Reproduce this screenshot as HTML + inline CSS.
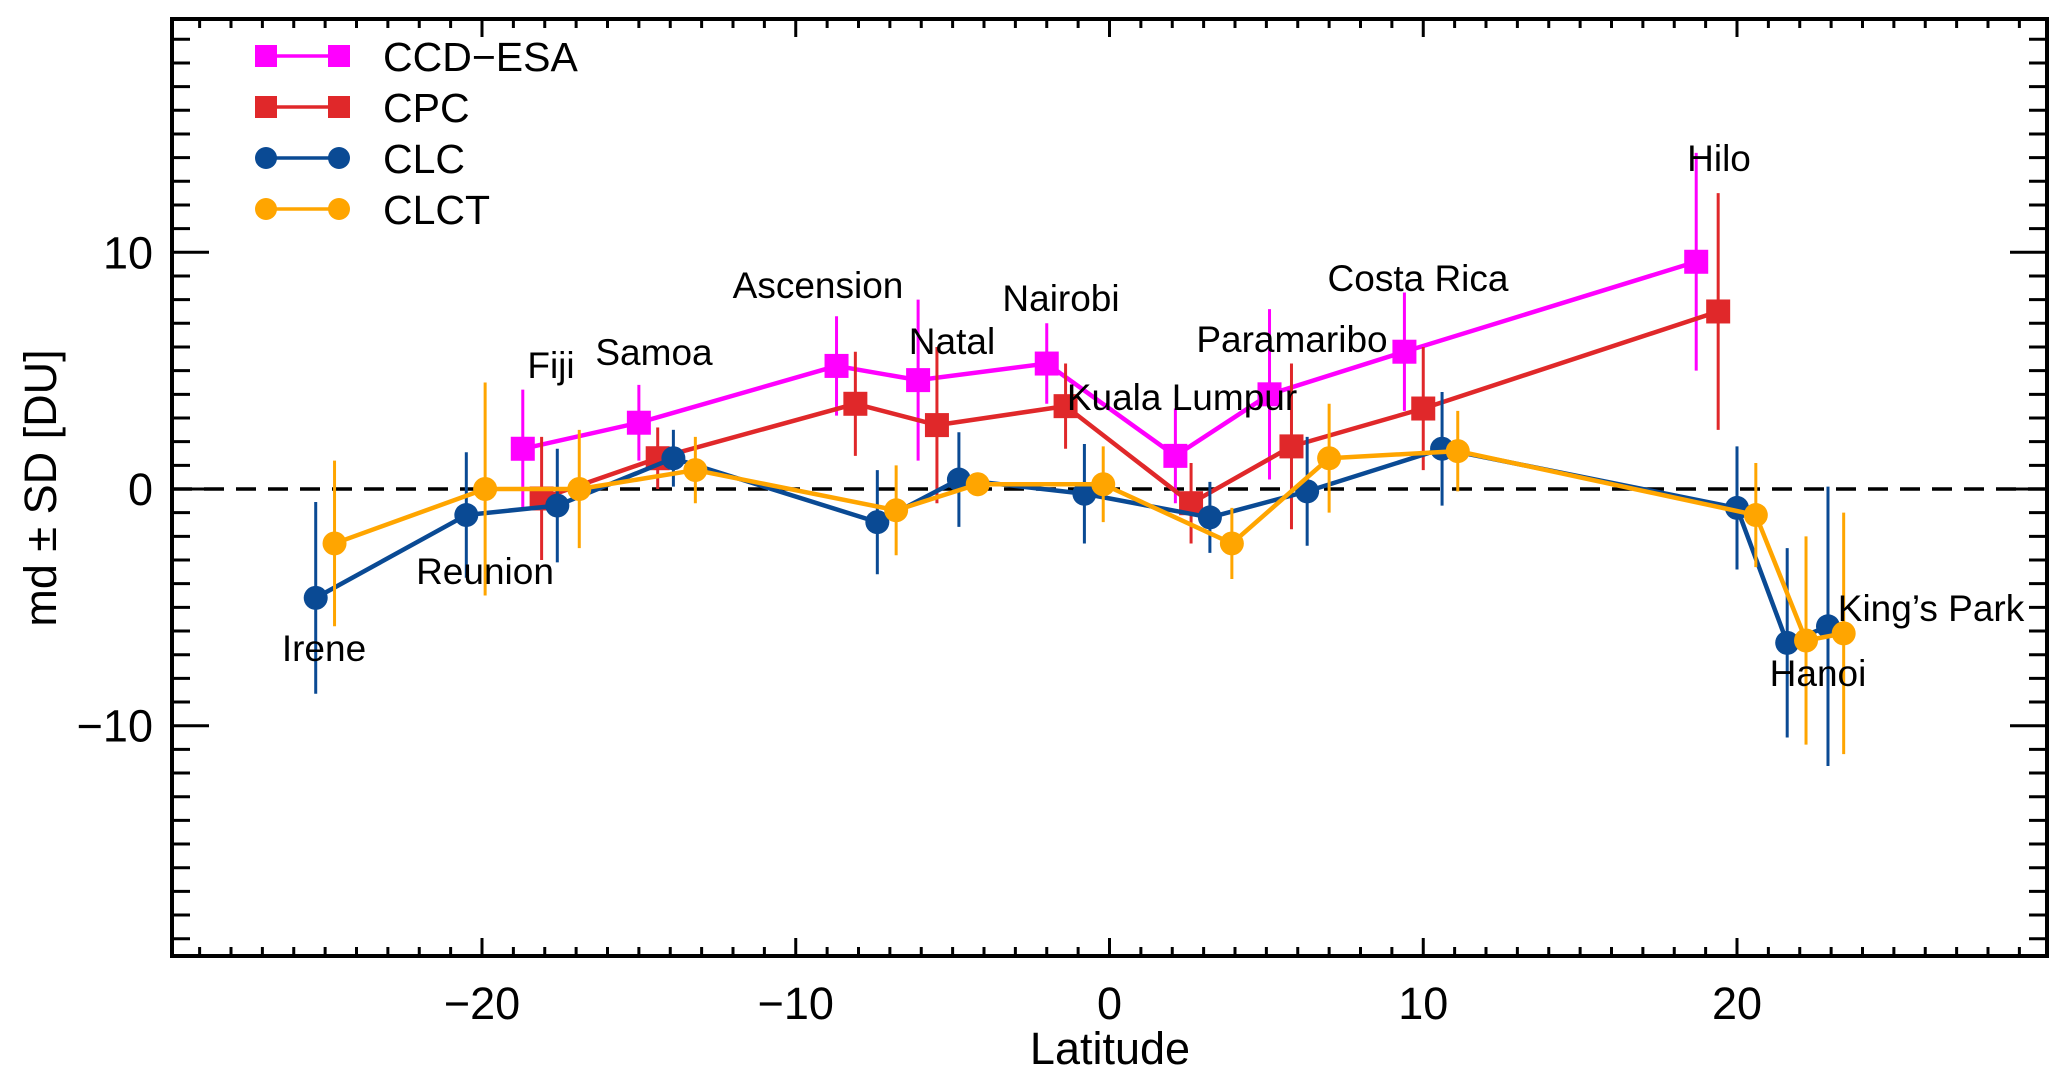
<!DOCTYPE html>
<html><head><meta charset="utf-8"><style>
html,body{margin:0;padding:0;background:#fff}
svg{display:block}
text{font-family:"Liberation Sans",Arial,sans-serif;fill:#000}
</style></head><body>
<svg id="chart" width="2067" height="1080" viewBox="0 0 2067 1080" xmlns="http://www.w3.org/2000/svg"></svg>
<script>
// ---- data ----
const ccdLat = [-18.7,-15.0,-8.7,-6.1,-2.0,2.1,5.1,9.4,18.7];
const ccdVal = [1.7,2.8,5.2,4.6,5.3,1.4,4.0,5.8,9.6];
const ccdErr = [2.5,1.6,2.1,3.4,1.7,2.0,3.6,2.5,4.6];
const cpcLat = [-18.1,-14.4,-8.1,-5.5,-1.4,2.6,5.8,10.0,19.4];
const cpcVal = [-0.4,1.3,3.6,2.7,3.5,-0.6,1.8,3.4,7.5];
const cpcErr = [2.6,1.3,2.2,3.3,1.8,1.7,3.5,2.6,5.0];
const clcLat = [-25.3,-20.5,-17.6,-13.9,-7.4,-4.8,-0.8,3.2,6.3,10.6,20.0,21.6,22.9];
const clcVal = [-4.6,-1.1,-0.7,1.3,-1.4,0.4,-0.2,-1.2,-0.1,1.7,-0.8,-6.5,-5.8];
const clcErr = [4.05,2.65,2.4,1.2,2.2,2.0,2.1,1.5,2.3,2.4,2.6,4.0,5.9];
const clctLat = [-24.7,-19.9,-16.9,-13.2,-6.8,-4.2,-0.2,3.9,7.0,11.1,20.6,22.2,23.4];
const clctVal = [-2.3,0.0,0.0,0.8,-0.9,0.2,0.2,-2.3,1.3,1.6,-1.1,-6.4,-6.1];
const clctErr = [3.5,4.5,2.5,1.4,1.9,0.5,1.6,1.5,2.3,1.7,2.2,4.4,5.1];
const xTicks = [-20,-10,0,10,20];
const xTickLabels = ["\u221220","\u221210","0","10","20"];
const yTicks = [-10,0,10];
const yTickLabels = ["\u221210","0","10"];
const stationNames = ["Irene","Reunion","Fiji","Samoa","Ascension","Natal","Nairobi","Kuala Lumpur","Paramaribo","Costa Rica","Hilo","Hanoi","King\u2019s Park"];

// ---- layout ----
const L=172,R=2047,T=19,B=956;
const X0=1109.5, XU=31.375, Y0=489, YU=23.67;
const xs=v=>X0+v*XU, ys=v=>Y0-v*YU;
const NS="http://www.w3.org/2000/svg";
const svg=document.getElementById('chart');
function mk(tag,attrs,parent){const e=document.createElementNS(NS,tag);for(const k in attrs)e.setAttribute(k,attrs[k]);(parent||svg).appendChild(e);return e;}

// zero line
const zl=mk('line',{x1:L,x2:R,y1:ys(0),y2:ys(0),stroke:'#000','stroke-width':3.5,'stroke-dasharray':'20 12'});



function series(name,lat,val,err,color,shape){
  const g=mk('g',{});
  
  
  lat.forEach((x,i)=>{
    const e=mk('line',{x1:xs(x),x2:xs(x),y1:ys(val[i]-err[i]),y2:ys(val[i]+err[i]),stroke:color,'stroke-width':3},g);
    
    
  });
  const pl=mk('polyline',{points:lat.map((x,i)=>xs(x)+','+ys(val[i])).join(' '),fill:'none',stroke:color,'stroke-width':4.5,'stroke-linejoin':'round'},g);
  
  
  lat.forEach((x,i)=>{
    let m;
    if(shape==='sq') m=mk('rect',{x:xs(x)-12,y:ys(val[i])-12,width:24,height:24,fill:color},g);
    else m=mk('circle',{cx:xs(x),cy:ys(val[i]),r:12,fill:color},g);
    
    
  });
}
series('ccd-esa',ccdLat,ccdVal,ccdErr,'#ff00ff','sq');
series('cpc',cpcLat,cpcVal,cpcErr,'#e0282a','sq');
series('clc',clcLat,clcVal,clcErr,'#0a4a94','c');
series('clct',clctLat,clctVal,clctErr,'#ffa500','c');

// station labels (pixel positions of text centres)
const labelPos=[[324,648],[485,571],[551,365],[654,352],[818,285],[952,341],[1061,298],[1182,397],[1292,339],[1418,278],[1719,158],[1818,673],[1931,608]];
stationNames.forEach((n,i)=>{
  const t=mk('text',{x:labelPos[i][0],y:labelPos[i][1]+13,'font-size':37,'text-anchor':'middle'});
  t.textContent=n;
  
  
});

// axes frame
const fr=mk('rect',{x:L,y:T,width:R-L,height:B-T,fill:'none',stroke:'#000','stroke-width':4});


const tg=mk('g',{stroke:'#000','stroke-width':3});


for(let v=-29;v<=29;v++){
  const len=(v%10===0)?18:9, x=xs(v);
  mk('line',{x1:x,x2:x,y1:B,y2:B-len},tg);
  mk('line',{x1:x,x2:x,y1:T,y2:T+len},tg);
}
for(let v=-19;v<=19;v++){
  const len=(v%10===0)?37:18, y=ys(v);
  mk('line',{x1:L,x2:L+len,y1:y,y2:y},tg);
  mk('line',{x1:R,x2:R-len,y1:y,y2:y},tg);
}
xTicks.forEach((v,i)=>{
  const t=mk('text',{x:xs(v),y:1019,'font-size':45,'text-anchor':'middle'});
  t.textContent=xTickLabels[i];
  
  
});
yTicks.forEach((v,i)=>{
  const t=mk('text',{x:153,y:ys(v)+16,'font-size':45,'text-anchor':'end'});
  t.textContent=yTickLabels[i];
  
  
});
const xt=mk('text',{x:1110,y:1064,'font-size':45,'text-anchor':'middle'});
xt.textContent='Latitude';


const yt=mk('text',{x:0,y:0,'font-size':45,'text-anchor':'middle',transform:'translate(56,488) rotate(-90)'});
yt.textContent='md \u00b1 SD [DU]';



// legend
const legItems=[['CCD\u2212ESA','#ff00ff','sq'],['CPC','#e0282a','sq'],['CLC','#0a4a94','c'],['CLCT','#ffa500','c']];
const legY=[56,107,158,209];
const lg=mk('g',{});


legItems.forEach((it,i)=>{
  const g=mk('g',{},lg);
  
  
  const y=legY[i];
  mk('line',{x1:266,x2:339,y1:y,y2:y,stroke:it[1],'stroke-width':3.5},g);
  [266,339].forEach(x=>{
    if(it[2]==='sq') mk('rect',{x:x-11,y:y-11,width:22,height:22,fill:it[1]},g);
    else mk('circle',{cx:x,cy:y,r:11,fill:it[1]},g);
  });
  const t=mk('text',{x:383,y:y+15,'font-size':41},g);
  t.textContent=it[0];
});
</script>
</body></html>
